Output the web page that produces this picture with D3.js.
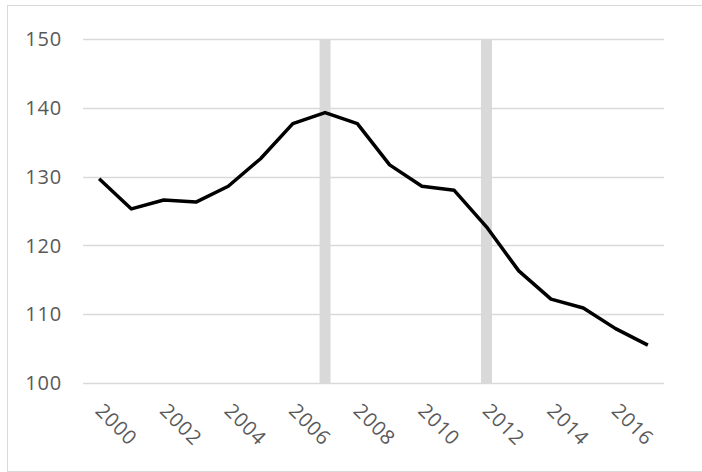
<!DOCTYPE html>
<html>
<head>
<meta charset="utf-8">
<script src="https://cdn.jsdelivr.net/npm/d3@7"></script>
<style>
  body { margin: 0; background: #fff; }
  text { font-family: "Open Sans", "Liberation Sans", Arial, sans-serif; fill: #595959; letter-spacing: 0.8px; }
</style>
</head>
<body>
<svg width="702" height="472"></svg>
<script>
var years = [2000, 2001, 2002, 2003, 2004, 2005, 2006, 2007, 2008,
             2009, 2010, 2011, 2012, 2013, 2014, 2015, 2016, 2017];
var values = [129.7, 125.3, 126.6, 126.3, 128.6, 132.6, 137.7, 139.3, 137.7,
              131.7, 128.6, 128.0, 122.7, 116.3, 112.2, 110.9, 107.9, 105.5];
var yTicks = [100, 110, 120, 130, 140, 150];
var xLabels = [2000, 2002, 2004, 2006, 2008, 2010, 2012, 2014, 2016];
var markYears = [2007, 2012];

var svg = d3.select("svg");

// chart border
svg.append("rect")
  .attr("x", 7.5)
  .attr("y", 5.5)
  .attr("width", 700)
  .attr("height", 466)
  .attr("fill", "none")
  .attr("stroke", "#d9d9d9")
  .attr("stroke-width", 1);

var x = d3.scaleBand()
  .domain(years)
  .range([83, 664]);

var y = d3.scaleLinear()
  .domain([100, 150])
  .range([383, 39]);

var cx = function(d) { return x(d) + x.bandwidth() / 2; };

// gridlines
svg.selectAll("line.grid")
  .data(yTicks)
  .enter()
  .append("line")
  .attr("class", "grid")
  .attr("x1", 83)
  .attr("x2", 664)
  .attr("y1", function(d) { return Math.round(y(d)) + 0.5; })
  .attr("y2", function(d) { return Math.round(y(d)) + 0.5; })
  .attr("stroke", "#d9d9d9")
  .attr("stroke-width", 1.3);

// y labels
svg.selectAll("text.ylab")
  .data(yTicks)
  .enter()
  .append("text")
  .attr("class", "ylab")
  .attr("x", 62)
  .attr("y", function(d) { return y(d); })
  .attr("dy", "0.36em")
  .attr("text-anchor", "end")
  .attr("font-size", "20px")
  .text(function(d) { return d; });

// gray marker bars
svg.selectAll("rect.mark")
  .data(markYears)
  .enter()
  .append("rect")
  .attr("class", "mark")
  .attr("x", function(d) { return cx(d) - 5.5; })
  .attr("y", y(150))
  .attr("width", 11)
  .attr("height", y(100) - y(150))
  .attr("fill", "#d9d9d9");

// line
var line = d3.line()
  .x(function(d, i) { return cx(years[i]); })
  .y(function(d) { return y(d); });

svg.append("path")
  .datum(values)
  .attr("d", line)
  .attr("fill", "none")
  .attr("stroke", "#000")
  .attr("stroke-width", 3.5)
  .attr("stroke-linejoin", "round");

// x labels
svg.selectAll("text.xlab")
  .data(xLabels)
  .enter()
  .append("text")
  .attr("class", "xlab")
  .attr("transform", function(d) {
    return "translate(" + (cx(d) - 5) + ",412) rotate(45)";
  })
  .attr("font-size", "20px")
  .text(function(d) { return d; });
</script>
</body>
</html>
